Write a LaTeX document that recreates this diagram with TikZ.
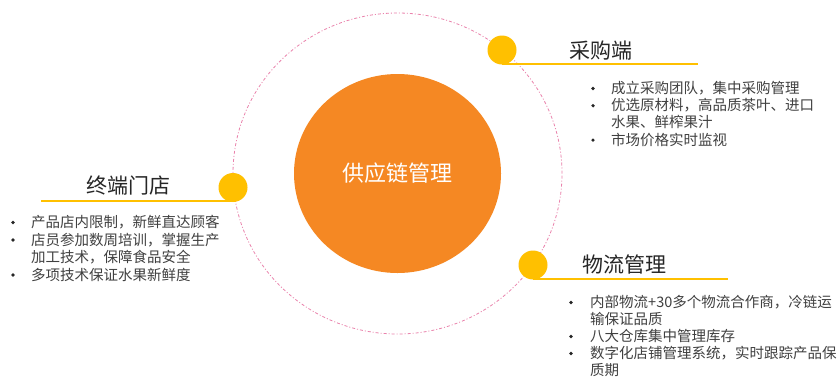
\documentclass[tikz,border=0pt]{standalone}
\usepackage{fontspec}
\usetikzlibrary{shapes.geometric}
\setmainfont{Noto Sans CJK SC}
\newfontfamily\bulfont{Liberation Sans}
\definecolor{mainorange}{RGB}{245,136,35}
\definecolor{dotyellow}{RGB}{255,192,0}
\definecolor{ringpink}{RGB}{234,130,172}
\definecolor{textgray}{RGB}{64,64,64}
\definecolor{titlegray}{RGB}{38,38,38}
\newcommand\itemfont{\fontsize{14.5}{17.3}\selectfont}
\newcommand\titlefont{\fontsize{21}{24}\selectfont}
\begin{document}
\begin{tikzpicture}[x=1pt,y=-1pt,
  ring/.style={ellipse, draw=ringpink, line width=0.8pt, dash pattern=on 3pt off 2pt on 1pt off 2pt, minimum width=329pt, minimum height=321pt, inner sep=0},
  hub/.style={ellipse, fill=mainorange, minimum width=207pt, minimum height=199pt, inner sep=0, text=white, font=\fontsize{22}{26}\selectfont},
  ydot/.style={circle, fill=dotyellow, minimum size=29pt, inner sep=0},
  uline/.style={draw=dotyellow, line width=2pt},
  ttl/.style={anchor=base west, inner sep=0, text=titlegray, font=\titlefont},
  itm/.style={anchor=base west, inner sep=0, text=textgray, font=\itemfont},
  bul/.style={circle, fill=titlegray, minimum size=3.6pt, inner sep=0},
]
\useasboundingbox (0,0) rectangle (837,376);
\fill[white] (0,0) rectangle (837,376);

\node[ring] (ring) at (397.5,173.5) {};
\node[hub] (hub) at (397.5,173.5) {供应链管理};

% top right: 采购端
\coordinate (cgend) at (698,64);
\draw[uline] (502,64) -- (cgend);
\node[ydot] (cgdot) at (502,50) {};
\node[ttl] (cgtitle) at (569,58) {采购端};
\node[bul] (cgb1) at (593,88.5) {};
\node[itm] (cg1) at (611,93.5) {成立采购团队，集中采购管理};
\node[bul] (cgb2) at (593,105.7) {};
\node[itm] (cg2) at (611,110.7) {优选原材料，高品质茶叶、进口};
\node[itm] (cg2b) at (611,127.9) {水果、鲜榨果汁};
\node[bul] (cgb3) at (593,140.1) {};
\node[itm] (cg3) at (611,145.1) {市场价格实时监视};

% left: 终端门店
\coordinate (mdend) at (41,201);
\draw[uline] (233,201) -- (mdend);
\node[ydot] (mddot) at (233,187.5) {};
\node[ttl] (mdtitle) at (86,193) {终端门店};
\node[bul] (mdb1) at (13,222.5) {};
\node[itm] (md1) at (31,227.5) {产品店内限制，新鲜直达顾客};
\node[bul] (mdb2) at (13,240) {};
\node[itm] (md2) at (31,245) {店员参加数周培训，掌握生产};
\node[itm] (md2b) at (31,262.5) {加工技术，保障食品安全};
\node[bul] (mdb3) at (13,275) {};
\node[itm] (md3) at (31,280) {多项技术保证水果新鲜度};

% bottom right: 物流管理
\coordinate (wlend) at (728,279);
\draw[uline] (533,279) -- (wlend);
\node[ydot] (wldot) at (533,265) {};
\node[ttl] (wltitle) at (582,272) {物流管理};
\node[bul] (wlb1) at (571,302.5) {};
\node[itm] (wl1) at (590,307.5) {内部物流+30多个物流合作商，冷链运};
\node[itm] (wl1b) at (590,324.5) {输保证品质};
\node[bul] (wlb2) at (571,336.5) {};
\node[itm] (wl2) at (590,341.5) {八大仓库集中管理库存};
\node[bul] (wlb3) at (571,353.5) {};
\node[itm] (wl3) at (590,358.5) {数字化店铺管理系统，实时跟踪产品保};
\node[itm] (wl3b) at (590,375.5) {质期};
\end{tikzpicture}
\end{document}
